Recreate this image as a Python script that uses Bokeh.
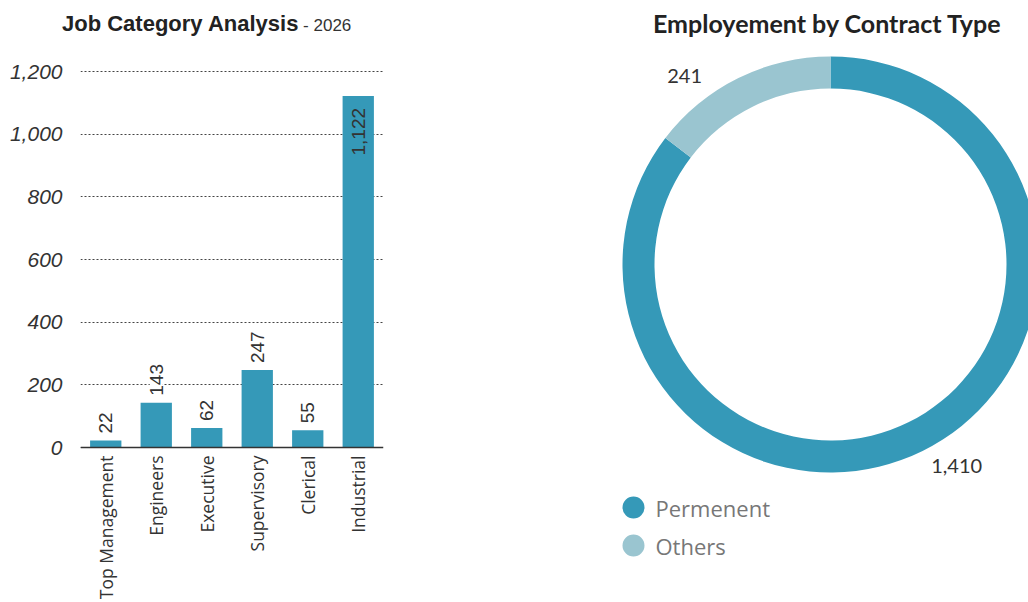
import math
from bokeh.plotting import figure
from bokeh.models import ColumnDataSource, Range1d, FactorRange, NumeralTickFormatter, FixedTicker, Span, Div
from bokeh.layouts import row, column
from bokeh.core.properties import value
from bokeh.embed import file_html
from bokeh.resources import INLINE

# ---------------- data ----------------
job_categories = ["Top Management", "Engineers", "Executive", "Supervisory", "Clerical", "Industrial"]
job_counts = [22, 143, 62, 247, 55, 1122]
y_ticks = [0, 200, 400, 600, 800, 1000, 1200]

contract_types = ["Permenent", "Others"]
contract_values = [1410, 241]

BAR_COLOR = "#3599b8"
LIGHT_COLOR = "#9ac5d0"
TEXT = "#333333"

TITLE_H = 40
H = 602 - TITLE_H

# ---------------- titles ----------------
d1 = Div(text=(
    '<div style="padding-left:62px;padding-top:13px;white-space:nowrap;line-height:22px;'
    'font-family:\'Liberation Sans\',Arial,sans-serif;">'
    '<span style="font-weight:bold;font-size:22px;color:#222222;">Job Category Analysis</span>'
    '<span style="font-size:17px;color:#333333;"> - 2026</span></div>'),
    width=400, height=TITLE_H, margin=0)
d2 = Div(text=(
    '<div style="padding-left:253px;padding-top:11px;white-space:nowrap;line-height:24px;'
    'font-family:Lato,sans-serif;font-weight:bold;font-size:25px;color:#222222;">'
    'Employement by Contract Type</div>'),
    width=628, height=TITLE_H, margin=0)

# ---------------- bar chart ----------------
# y=0 sits 447 px from the page top, 1200 at 71 px
k = (447 - 71) / 1200.0
y_top = (447 - TITLE_H) / k
y_bot = -(602 - 447) / k
p1 = figure(x_range=FactorRange(*job_categories, range_padding=0),
            y_range=Range1d(y_bot, y_top),
            width=400, height=H, output_backend="svg", toolbar_location=None,
            min_border_left=80, min_border_right=17, min_border_top=0, min_border_bottom=0)
p1.outline_line_color = None
p1.background_fill_color = None
p1.border_fill_color = "white"
p1.xaxis.visible = False
p1.xgrid.grid_line_color = None

src = ColumnDataSource(dict(cat=job_categories, val=job_counts))
p1.vbar(x="cat", top="val", width=0.62, source=src, fill_color=BAR_COLOR, line_color=None)

p1.yaxis.ticker = FixedTicker(ticks=y_ticks)
p1.yaxis.formatter = NumeralTickFormatter(format="0,0")
p1.yaxis.axis_line_color = None
p1.yaxis.major_tick_line_color = None
p1.yaxis.minor_tick_line_color = None
p1.yaxis.major_label_standoff = 12
p1.yaxis.major_label_text_font = "Liberation Sans"
p1.yaxis.major_label_text_font_style = "italic"
p1.yaxis.major_label_text_font_size = "21px"
p1.yaxis.major_label_text_color = TEXT

p1.ygrid.ticker = FixedTicker(ticks=y_ticks)
p1.ygrid.grid_line_color = "#444444"
p1.ygrid.grid_line_dash = "2 2"
p1.ygrid.grid_line_width = 1

# x axis line and category labels
p1.add_layout(Span(location=0, dimension="width", line_color=TEXT, line_width=1.5))
p1.text(x=job_categories, y=[0] * len(job_categories), text=job_categories,
        angle=math.pi / 2, text_align="right", text_baseline="middle", y_offset=8,
        text_font=value("Open Sans"), text_font_size="17.5px", text_color=TEXT)

# value labels: above bars, inside for the tallest
threshold = 1000
out_idx = [i for i, v in enumerate(job_counts) if v < threshold]
in_idx = [i for i, v in enumerate(job_counts) if v >= threshold]
out_src = ColumnDataSource(dict(cat=[job_categories[i] for i in out_idx],
                                val=[job_counts[i] for i in out_idx],
                                lbl=[f"{job_counts[i]:,}" for i in out_idx]))
in_src = ColumnDataSource(dict(cat=[job_categories[i] for i in in_idx],
                               val=[job_counts[i] for i in in_idx],
                               lbl=[f"{job_counts[i]:,}" for i in in_idx]))
p1.text(x="cat", y="val", text="lbl", source=out_src, angle=math.pi / 2,
        text_align="left", text_baseline="middle", y_offset=-7,
        text_font=value("Liberation Sans"), text_font_size="19px", text_color=TEXT,
        background_fill_color="white")
p1.text(x="cat", y="val", text="lbl", source=in_src, angle=math.pi / 2,
        text_align="right", text_baseline="middle", y_offset=12,
        text_font=value("Liberation Sans"), text_font_size="19px", text_color=TEXT)

# ---------------- donut chart ----------------
W2 = 628
p2 = figure(x_range=Range1d(0, W2), y_range=Range1d(0, H), width=W2, height=H,
            output_backend="svg", toolbar_location=None, min_border=0)
p2.outline_line_color = None
p2.axis.visible = False
p2.grid.grid_line_color = None
p2.border_fill_color = "white"

cx, cy = 430, 338
r_in, r_out = 176, 208
total = sum(contract_values)
others_frac = contract_values[1] / total
start_top = math.pi / 2
others_end = start_top + 2 * math.pi * others_frac
dsrc = ColumnDataSource(dict(
    name=contract_types,
    start=[others_end, start_top],
    end=[start_top + 2 * math.pi, others_end],
    color=[BAR_COLOR, LIGHT_COLOR]))
p2.annular_wedge(x=cx, y=cy, inner_radius=r_in, outer_radius=r_out,
                 start_angle="start", end_angle="end", direction="anticlock",
                 fill_color="color", line_color=None, source=dsrc)

# outside value labels
label_angles = [math.radians(-58), math.radians(127.8)]
label_r = 238
lsrc = ColumnDataSource(dict(
    x=[cx + label_r * math.cos(a) for a in label_angles],
    y=[cy + label_r * math.sin(a) for a in label_angles],
    t=[f"{v:,}" for v in contract_values]))
p2.text(x="x", y="y", text="t", source=lsrc, text_align="center", text_baseline="middle",
        text_font=value("Lato"), text_font_size="20px", text_color=TEXT)

# legend
leg_y = [95, 57]
p2.scatter(x=[233, 233], y=leg_y, size=22, marker="circle",
           fill_color=[BAR_COLOR, LIGHT_COLOR], line_color=None)
p2.text(x=[255, 255], y=leg_y, text=contract_types, text_align="left", text_baseline="middle",
        text_font=value("Open Sans"), text_font_size="22px", text_color="#777777")

layout = column(row(d1, d2), row(p1, p2))
open("out.html", "w").write(file_html(layout, INLINE))
